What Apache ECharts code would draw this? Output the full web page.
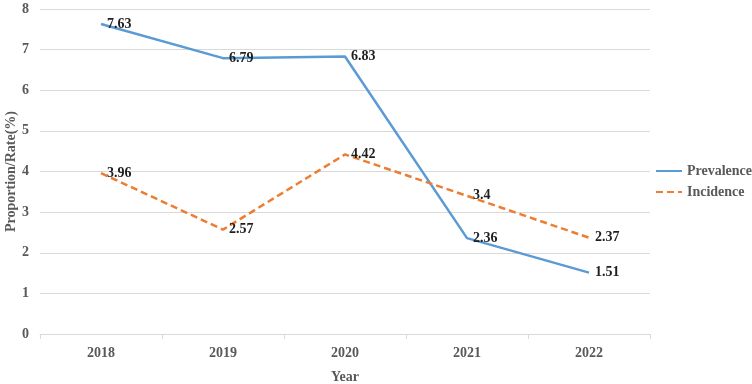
<!DOCTYPE html>
<html>
<head>
<meta charset="utf-8">
<script src="https://cdn.jsdelivr.net/npm/echarts@6/dist/echarts.min.js"></script>
<style>html,body{margin:0;padding:0;background:#fff;}#c{width:752px;height:384px;}</style>
</head>
<body>
<div id="c"></div>
<script>
const years = ['2018', '2019', '2020', '2021', '2022'];
const prevalence = [7.63, 6.79, 6.83, 2.36, 1.51];
const incidence = [3.96, 2.57, 4.42, 3.4, 2.37];
const yTicks = [0, 1, 2, 3, 4, 5, 6, 7, 8];

const font = "'Liberation Serif', 'Times New Roman', serif";
const chart = echarts.init(document.getElementById('c'), null, {renderer: 'canvas'});
const labelStyle = {show: true, position: 'right', distance: 6, fontFamily: font, fontWeight: 'bold', fontSize: 14, color: '#1f1f1f'};
chart.setOption({
  animation: false,
  backgroundColor: '#fff',
  grid: {left: 40, right: 102, top: 9, bottom: 50, containLabel: false, outerBoundsMode: 'none'},
  legend: {
    orient: 'vertical', left: 655, top: 164, padding: 0, itemWidth: 26, itemHeight: 14, itemGap: 7,
    itemStyle: {opacity: 0},
    textStyle: {fontFamily: font, fontWeight: 'bold', fontSize: 14, color: '#595959'},
    data: ['Prevalence', 'Incidence']
  },
  xAxis: {
    type: 'category', data: years, boundaryGap: true,
    name: 'Year', nameLocation: 'middle', nameGap: 36, nameMoveOverlap: false,
    nameTextStyle: {fontFamily: font, fontWeight: 'bold', fontSize: 14, color: '#595959'},
    axisLine: {lineStyle: {color: '#d9d9d9', width: 1}},
    axisTick: {show: true, alignWithLabel: false, length: 5, lineStyle: {color: '#d9d9d9'}},
    axisLabel: {fontFamily: font, fontWeight: 'bold', fontSize: 14, color: '#595959', margin: 12}
  },
  yAxis: {
    type: 'value', min: yTicks[0], max: yTicks[yTicks.length - 1], interval: 1,
    name: 'Proportion/Rate(%)', nameLocation: 'middle', nameGap: 22, nameMoveOverlap: false,
    nameTextStyle: {fontFamily: font, fontWeight: 'bold', fontSize: 14, color: '#595959'},
    axisLine: {show: false}, axisTick: {show: false},
    axisLabel: {fontFamily: font, fontWeight: 'bold', fontSize: 14, color: '#595959', margin: 11},
    splitLine: {lineStyle: {color: '#d9d9d9', width: 1}}
  },
  series: [
    {name: 'Prevalence', type: 'line', data: prevalence, symbol: 'circle', symbolSize: 0, showSymbol: true, color: '#5B9BD5',
     itemStyle: {color: '#5B9BD5'},
     lineStyle: {color: '#5B9BD5', width: 2.5}, label: labelStyle},
    {name: 'Incidence', type: 'line', data: incidence, symbol: 'circle', symbolSize: 0, showSymbol: true, color: '#ED7D31',
     itemStyle: {color: '#ED7D31'},
     lineStyle: {color: '#ED7D31', width: 2.5, type: [7, 4]}, label: labelStyle}
  ]
});
</script>
</body>
</html>
